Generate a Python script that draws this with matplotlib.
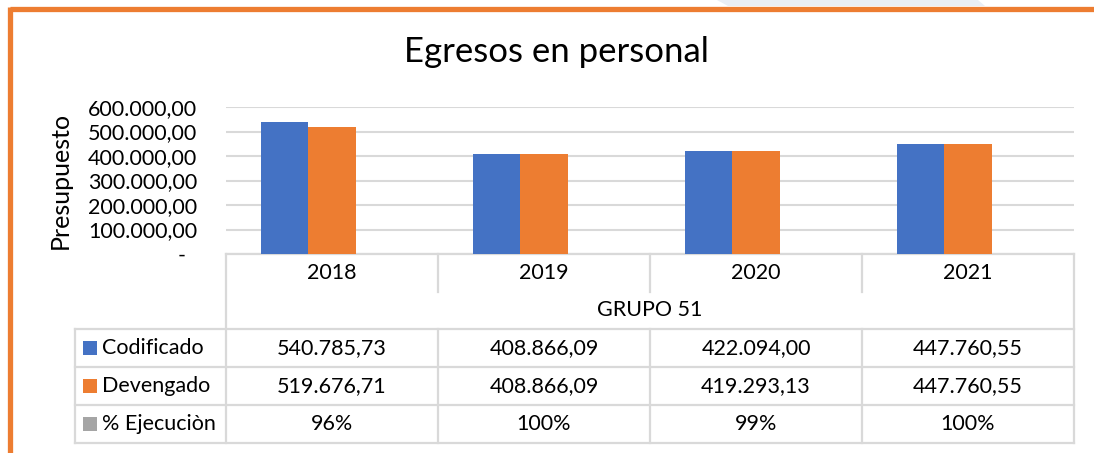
import matplotlib
matplotlib.use("Agg")
import matplotlib.pyplot as plt
from matplotlib.transforms import blended_transform_factory
from matplotlib.patches import Polygon, Rectangle
from matplotlib.ticker import FuncFormatter

plt.rcParams['font.family'] = ['Lato', 'DejaVu Sans']

# ---- data ----
years = ["2018", "2019", "2020", "2021"]
group_label = "GRUPO 51"
codificado = [540785.73, 408866.09, 422094.00, 447760.55]
devengado = [519676.71, 408866.09, 419293.13, 447760.55]
ejecucion = [96, 100, 99, 100]  # percent
series_names = ["Codificado", "Devengado", "% Ejecuciòn"]
yticks = [0, 100000, 200000, 300000, 400000, 500000, 600000]
title = "Egresos en personal"
ylabel = "Presupuesto"

BLUE = "#4472C4"
ORANGE = "#ED7D31"
GREY = "#A5A5A5"
GRID = "#D9D9D9"
FS = 15.5

W, H = 1094, 453
fig = plt.figure(figsize=(W / 100, H / 100), dpi=100)

# overlay in pixel coordinates
ov = fig.add_axes([0, 0, 1, 1], zorder=0)
ov.set_xlim(0, W)
ov.set_ylim(H, 0)
ov.axis("off")

# faint background shape + orange frame
ov.add_patch(Polygon([[717, 0], [978, 0], [985, 6], [728, 6]], closed=True,
                     facecolor="#E9EEF5", edgecolor="none"))
ov.plot([9.5, W], [8.5, 8.5], color=ORANGE, lw=3.8, solid_capstyle="butt")
ov.plot([9.5, 9.5], [6.5, H], color=ORANGE, lw=3.8, solid_capstyle="butt")

# plot area
L, R, T, B = 226, 1074, 107, 254
ax = fig.add_axes([L / W, 1 - B / H, (R - L) / W, (B - T) / H], zorder=1)
ax.patch.set_alpha(0)
x = list(range(len(years)))
bw = 0.222
ax.bar([i - bw for i in x], codificado, width=bw, color=BLUE, zorder=3)
ax.bar(x, devengado, width=bw, color=ORANGE, zorder=3)
ax.bar([i + bw for i in x], [v / 100 for v in ejecucion], width=bw, color=GREY, zorder=3)
ax.set_xlim(-0.5, len(years) - 0.5)
ax.set_ylim(0, 600000)
ax.set_yticks(yticks)


def fmt(v, pos=None):
    if v == 0:
        return "-  "
    s = f"{v:,.2f}"
    return s.replace(",", "X").replace(".", ",").replace("X", ".")


ax.yaxis.set_major_formatter(FuncFormatter(fmt))
ax.tick_params(axis="y", length=0, pad=29 / 1.389, labelsize=FS, labelcolor="#000000")
ax.tick_params(axis="x", length=0, labelbottom=False)
ax.grid(axis="y", color=GRID, lw=1.5, zorder=0)
for s in ax.spines.values():
    s.set_visible(False)
ax.set_ylabel(ylabel, fontsize=18)
ax.yaxis.set_label_coords((72 - L) / (R - L), 0.5)

fig.text(0.5085, 1 - 52 / H, title, ha="center", va="center", fontsize=25)

# ---- data table ----
tr = blended_transform_factory(ax.transData, ov.transData)
lc = dict(color=GRID, lw=1.6, solid_capstyle="projecting", clip_on=False)
n = len(years)
top, cat_bot, grp_bot = 254, 292, 329
rows_y = [329, 367, 405, 443]
ov.plot([-0.5, -0.5], [top, rows_y[-1]], transform=tr, **lc)
ov.plot([n - 0.5, n - 0.5], [top, rows_y[-1]], transform=tr, **lc)
ov.plot([-0.5, n - 0.5], [top, top], transform=tr, **lc)
for i in range(1, n):
    ov.plot([i - 0.5, i - 0.5], [top, cat_bot], transform=tr, **lc)
    ov.plot([i - 0.5, i - 0.5], [grp_bot, rows_y[-1]], transform=tr, **lc)
for y in rows_y:
    ov.plot([75, R], [y, y], **lc)
ov.plot([75, 75], [rows_y[0], rows_y[-1]], **lc)

for i, yr in enumerate(years):
    ov.text(i, 273, yr, transform=tr, ha="center", va="center", fontsize=FS)
ov.text((n - 1) / 2, 310, group_label, transform=tr, ha="center", va="center", fontsize=FS)

row_vals = [
    [fmt(v) for v in codificado],
    [fmt(v) for v in devengado],
    [f"{v}%" for v in ejecucion],
]
colors = [BLUE, ORANGE, GREY]
for r in range(3):
    yc = (rows_y[r] + rows_y[r + 1]) / 2
    ov.add_patch(Rectangle((83, yc - 7), 14, 14, facecolor=colors[r], edgecolor="none"))
    ov.text(102, yc, series_names[r], ha="left", va="center", fontsize=FS)
    for i in range(n):
        ov.text(i, yc, row_vals[r][i], transform=tr, ha="center", va="center", fontsize=FS)

fig.savefig("out.png", dpi=100)
